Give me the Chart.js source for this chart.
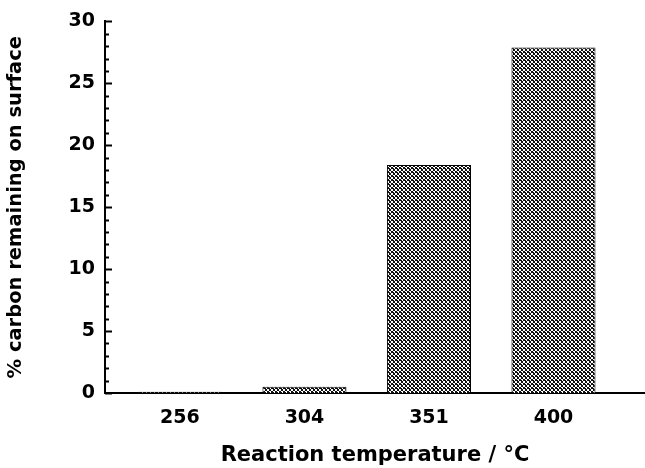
<!DOCTYPE html>
<html>
<head>
<meta charset="utf-8">
<script src="https://cdn.jsdelivr.net/npm/chart.js@4/dist/chart.umd.min.js"></script>
<style>
  html, body { margin: 0; padding: 0; background: #fff; }
  #wrap { width: 645px; height: 468px; }
</style>
</head>
<body>
<div id="wrap"><canvas id="chart" width="645" height="468"></canvas></div>
<script>
// temperatures (°C) and carbon left on the surface (%)
var temperatures = ['256', '304', '351', '400'];
var carbonLeft = [0.1, 0.5, 18.4, 27.9];
var yTicks = [0, 5, 10, 15, 20, 25, 30];

// crosshatch fill like the scanned bars
function hatch() {
  var c = document.createElement('canvas');
  c.width = 4; c.height = 4;
  var g = c.getContext('2d');
  g.fillStyle = '#fff';
  g.fillRect(0, 0, 4, 4);
  g.fillStyle = '#111';
  // two diagonals -> X lattice
  for (var i = 0; i < 4; i++) {
    g.fillRect(i, i, 1, 1);
    g.fillRect(3 - i, i, 1, 1);
  }
  g.fillRect(1, 0, 1, 1);
  return document.getElementById('chart').getContext('2d').createPattern(c, 'repeat');
}

// minor/major ticks pointing into the plot
var inwardTicks = {
  id: 'inwardTicks',
  afterDraw: function(chart) {
    var ctx = chart.ctx, y = chart.scales.y, left = chart.chartArea.left;
    ctx.save();
    ctx.strokeStyle = '#000';
    ctx.lineWidth = 2;
    for (var v = 0; v <= 30; v++) {
      var py = Math.round(y.getPixelForValue(v)) + 0.5;
      var len = (v % 5 === 0) ? 7 : 4;
      ctx.beginPath();
      ctx.moveTo(left, py);
      ctx.lineTo(left + len, py);
      ctx.stroke();
    }
    ctx.restore();
  }
};

var points = carbonLeft.map(function(v, i) { return {x: i, y: v}; });

var chart = new Chart(document.getElementById('chart'), {
  type: 'bar',
  data: {
    datasets: [{
      data: points,
      backgroundColor: hatch(),
      borderColor: '#000',
      borderWidth: 1,
      barPercentage: 0.675,
      categoryPercentage: 1
    }]
  },
  plugins: [inwardTicks],
  options: {
    responsive: false,
    animation: false,
    layout: { padding: { top: 18, right: 0, left: 0, bottom: 0 } },
    plugins: { legend: { display: false }, tooltip: { enabled: false } },
    scales: {
      x: {
        type: 'linear',
        offset: false,
        min: -0.602,
        max: 3.735,
        afterBuildTicks: function(s) { s.ticks = temperatures.map(function(t, i) { return {value: i}; }); },
        afterFit: function(s) { s.height = 75; },
        grid: { display: false, drawTicks: false },
        border: { display: true, color: '#000', width: 2 },
        ticks: {
          padding: 14,
          color: '#000',
          font: { family: 'DejaVu Sans', weight: 'bold', size: 19 }
        ,
          callback: function(v) { return temperatures[v]; }
        },
        title: {
          display: true,
          text: 'Reaction temperature / °C',
          color: '#000',
          padding: { top: 8, bottom: 0 },
          font: { family: 'DejaVu Sans', weight: 'bold', size: 21 }
        }
      },
      y: {
        min: 0,
        max: 30,
        afterBuildTicks: function(s) { s.ticks = yTicks.map(function(v) { return {value: v}; }); },
        afterFit: function(s) { s.width = 105; },
        grid: { display: false, drawTicks: false },
        border: { display: true, color: '#000', width: 2 },
        ticks: {
          padding: 10,
          color: '#000',
          font: { family: 'DejaVu Sans', weight: 'bold', size: 19 }
        },
        title: {
          display: true,
          text: '% carbon remaining on surface',
          color: '#000',
          padding: { top: 4, bottom: 4 },
          font: { family: 'DejaVu Sans', weight: 'bold', size: 19.5 }
        }
      }
    }
  }
});
</script>
</body>
</html>
